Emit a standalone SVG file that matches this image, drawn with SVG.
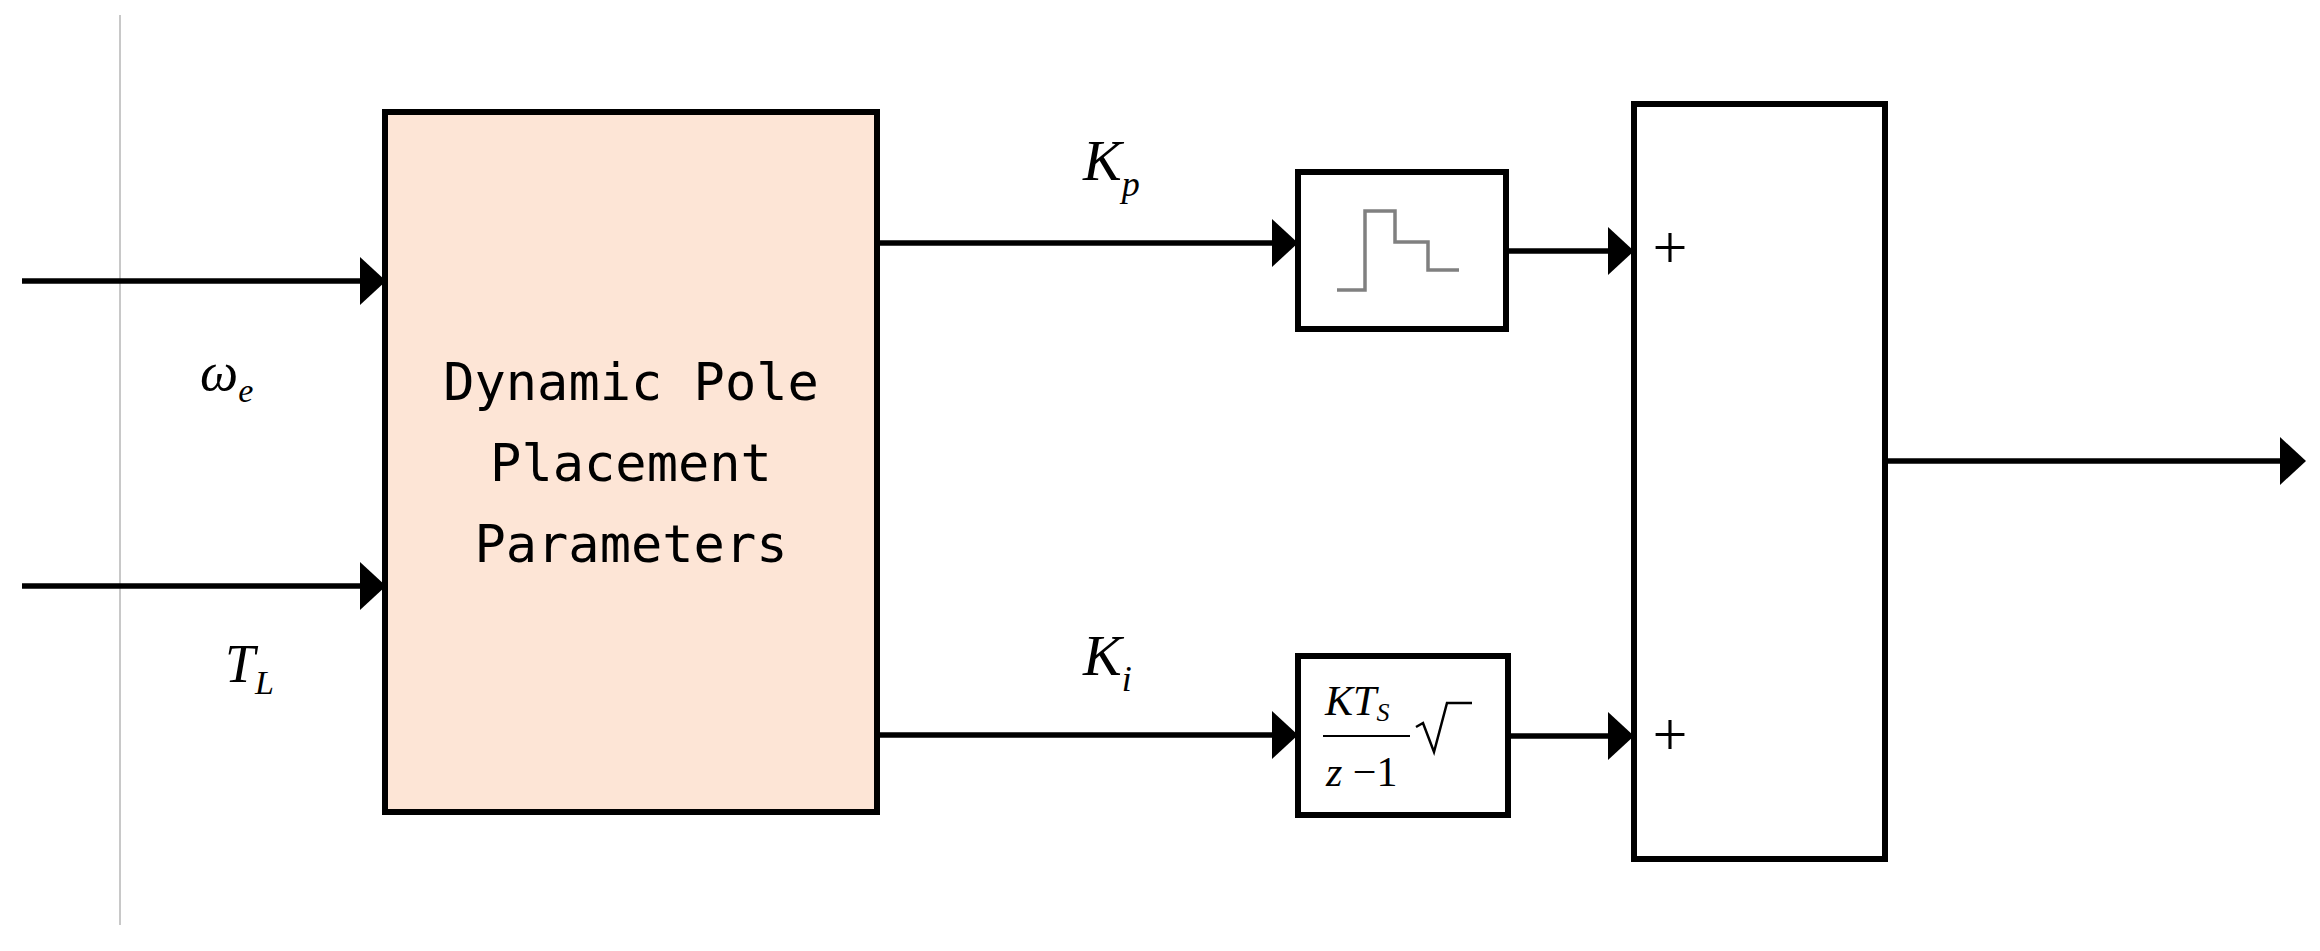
<svg xmlns="http://www.w3.org/2000/svg" width="2320" height="951" viewBox="0 0 2320 951">
<style>
.ln{stroke:#000;stroke-width:5.5;fill:none}
.bx{stroke:#000;stroke-width:6;fill:#fff}
.ah{fill:#000}
.m{font-family:'Liberation Serif',serif;font-style:italic;fill:#000}
.mono{font-family:'DejaVu Sans Mono','Liberation Mono',monospace;font-size:52px;fill:#000;text-anchor:middle}
</style>
<rect width="2320" height="951" fill="#fff"/>
<line x1="120" y1="15" x2="120" y2="925" stroke="#c8c8c8" stroke-width="2"/>
<g id="connectors">
<line class="ln" x1="22" y1="281" x2="360" y2="281"/><polygon class="ah" points="360,257 386,281 360,305"/>
<line class="ln" x1="22" y1="586" x2="360" y2="586"/><polygon class="ah" points="360,562 386,586 360,610"/>
<line class="ln" x1="878" y1="243" x2="1272" y2="243"/><polygon class="ah" points="1272,219 1298,243 1272,267"/>
<line class="ln" x1="878" y1="735" x2="1272" y2="735"/><polygon class="ah" points="1272,711 1298,735 1272,759"/>
<line class="ln" x1="1506" y1="251" x2="1608" y2="251"/><polygon class="ah" points="1608,227 1634,251 1608,275"/>
<line class="ln" x1="1506" y1="736" x2="1608" y2="736"/><polygon class="ah" points="1608,712 1634,736 1608,760"/>
<line class="ln" x1="1885" y1="461" x2="2280" y2="461"/><polygon class="ah" points="2280,437 2306,461 2280,485"/>
</g>
<g id="labels">
<text class="m" x="200" y="390" font-size="54">ω<tspan font-size="34" dy="12">e</tspan></text>
<text class="m" x="225" y="682" font-size="54">T<tspan font-size="34" dy="12">L</tspan></text>
<text class="m" x="1083" y="180" font-size="58">K<tspan font-size="36" dy="16">p</tspan></text>
<text class="m" x="1083" y="675" font-size="58">K<tspan font-size="36" dy="16">i</tspan></text>
</g>
<g id="dpp">
<rect x="385" y="112" width="492" height="700" fill="#fde5d6" stroke="#000" stroke-width="6"/>
<text class="mono" x="631" y="400">Dynamic Pole</text>
<text class="mono" x="631" y="481">Placement</text>
<text class="mono" x="631" y="562">Parameters</text>
</g>
<g id="step">
<rect class="bx" x="1298" y="172" width="208" height="157"/>
<polyline points="1337,290 1365,290 1365,211 1395,211 1395,242 1428,242 1428,270 1459,270" fill="none" stroke="#808080" stroke-width="3.5"/>
</g>
<g id="tf">
<rect class="bx" x="1298" y="656" width="210" height="159"/>
<text class="m" x="1325" y="715" font-size="42">KT<tspan font-size="26" dy="6">S</tspan></text>
<line x1="1323" y1="736" x2="1410" y2="736" stroke="#000" stroke-width="2"/>
<text class="m" x="1326" y="786" font-size="42">z<tspan font-style="normal"> −1</tspan></text>
<path d="M1416,727 L1423,723 L1434,752 L1447,703 L1472,703" fill="none" stroke="#000" stroke-width="2.5"/>
</g>
<g id="sum">
<rect class="bx" x="1634" y="104" width="251" height="755"/>
<text x="1670" y="268" font-family="Liberation Serif,serif" font-size="62" text-anchor="middle">+</text>
<text x="1670" y="755" font-family="Liberation Serif,serif" font-size="62" text-anchor="middle">+</text>
</g>
</svg>
